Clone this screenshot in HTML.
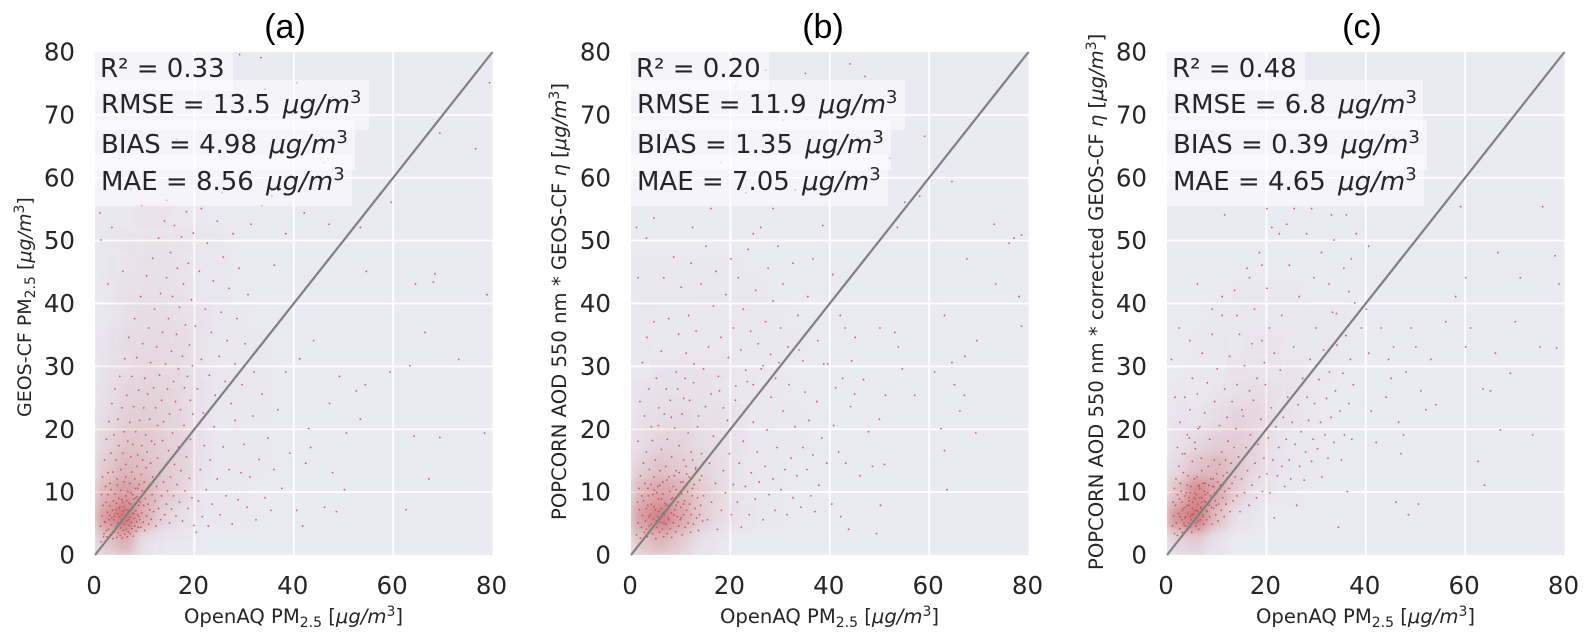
<!DOCTYPE html>
<html lang="en">
<head>
<meta charset="utf-8">
<title>PM2.5 scatter comparison</title>
<style>
html,body{margin:0;padding:0;background:#fff;width:1594px;height:641px;overflow:hidden}
svg{display:block}
text{font-family:"DejaVu Sans",sans-serif;fill:#262626}
.title{font-family:"Liberation Sans",sans-serif;font-size:34px;fill:#000;text-anchor:middle}
.stat{font-size:26px}
.axis-label{font-size:19.6px}
.it{font-style:italic}
.stat-box{fill:#fff;fill-opacity:.5}
</style>
</head>
<body>
<svg id="figure" width="1594" height="641" viewBox="0 0 1594 641" xmlns="http://www.w3.org/2000/svg">
  <defs>
    <filter id="soften" x="-10%" y="-10%" width="120%" height="120%"><feGaussianBlur stdDeviation="6"/></filter>
    <clipPath id="clip-a"><rect x="95" y="52" width="397.5" height="503"/></clipPath>
    <clipPath id="clip-b"><rect x="631" y="52" width="397.5" height="503"/></clipPath>
    <clipPath id="clip-c"><rect x="1167" y="52" width="397.5" height="503"/></clipPath>
  </defs>
  <g id="layer-a"></g>
  <g id="layer-b"></g>
  <g id="layer-c"></g>

  <text class="title" x="285" y="38">(a)</text>
  <text class="title" x="823" y="38">(b)</text>
  <text class="title" x="1362" y="38">(c)</text>

  <g>
    <rect class="stat-box" x="95" y="52" width="138" height="39"/>
    <rect class="stat-box" x="95" y="80" width="274" height="50"/>
    <rect class="stat-box" x="95" y="120" width="260" height="50"/>
    <rect class="stat-box" x="95" y="155" width="257" height="51"/>
    <text class="stat" x="100" y="77">R² = 0.33</text>
    <text class="stat" x="101" y="113">RMSE = 13.5 <tspan class="it" dx="4">μg/m</tspan><tspan font-size="18" dy="-10">3</tspan></text>
    <text class="stat" x="101" y="153">BIAS = 4.98 <tspan class="it" dx="4">μg/m</tspan><tspan font-size="18" dy="-10">3</tspan></text>
    <text class="stat" x="101" y="190">MAE = 8.56 <tspan class="it" dx="4">μg/m</tspan><tspan font-size="18" dy="-10">3</tspan></text>
  </g>
  <g>
    <rect class="stat-box" x="631" y="52" width="138" height="39"/>
    <rect class="stat-box" x="631" y="80" width="274" height="50"/>
    <rect class="stat-box" x="631" y="120" width="260" height="50"/>
    <rect class="stat-box" x="631" y="155" width="257" height="51"/>
    <text class="stat" x="636" y="77">R² = 0.20</text>
    <text class="stat" x="637" y="113">RMSE = 11.9 <tspan class="it" dx="4">μg/m</tspan><tspan font-size="18" dy="-10">3</tspan></text>
    <text class="stat" x="637" y="153">BIAS = 1.35 <tspan class="it" dx="4">μg/m</tspan><tspan font-size="18" dy="-10">3</tspan></text>
    <text class="stat" x="637" y="190">MAE = 7.05 <tspan class="it" dx="4">μg/m</tspan><tspan font-size="18" dy="-10">3</tspan></text>
  </g>
  <g>
    <rect class="stat-box" x="1167" y="52" width="138" height="39"/>
    <rect class="stat-box" x="1167" y="80" width="256" height="50"/>
    <rect class="stat-box" x="1167" y="120" width="260" height="50"/>
    <rect class="stat-box" x="1167" y="155" width="257" height="51"/>
    <text class="stat" x="1172" y="77">R² = 0.48</text>
    <text class="stat" x="1173" y="113">RMSE = 6.8 <tspan class="it" dx="4">μg/m</tspan><tspan font-size="18" dy="-10">3</tspan></text>
    <text class="stat" x="1173" y="153">BIAS = 0.39 <tspan class="it" dx="4">μg/m</tspan><tspan font-size="18" dy="-10">3</tspan></text>
    <text class="stat" x="1173" y="190">MAE = 4.65 <tspan class="it" dx="4">μg/m</tspan><tspan font-size="18" dy="-10">3</tspan></text>
  </g>

  <text class="axis-label" x="184" y="623">OpenAQ PM<tspan font-size="14" dy="4">2.5</tspan><tspan dy="-4"> [</tspan><tspan class="it">μg/m</tspan><tspan font-size="14" dy="-7">3</tspan><tspan dy="7">]</tspan></text>
  <text class="axis-label" x="720" y="623">OpenAQ PM<tspan font-size="14" dy="4">2.5</tspan><tspan dy="-4"> [</tspan><tspan class="it">μg/m</tspan><tspan font-size="14" dy="-7">3</tspan><tspan dy="7">]</tspan></text>
  <text class="axis-label" x="1256" y="623">OpenAQ PM<tspan font-size="14" dy="4">2.5</tspan><tspan dy="-4"> [</tspan><tspan class="it">μg/m</tspan><tspan font-size="14" dy="-7">3</tspan><tspan dy="7">]</tspan></text>

  <text class="axis-label" style="font-size:19px" transform="translate(31,417) rotate(-90)">GEOS-CF PM<tspan font-size="14" dy="4">2.5</tspan><tspan dy="-4"> [</tspan><tspan class="it">μg/m</tspan><tspan font-size="14" dy="-7">3</tspan><tspan dy="7">]</tspan></text>
  <text class="axis-label" transform="translate(566,520) rotate(-90)">POPCORN AOD 550 nm * GEOS-CF <tspan class="it">η</tspan> [<tspan class="it">μg/m</tspan><tspan font-size="14" dy="-7">3</tspan><tspan dy="7">]</tspan></text>
  <text class="axis-label" transform="translate(1103,570) rotate(-90)">POPCORN AOD 550 nm * corrected GEOS-CF <tspan class="it">η</tspan> [<tspan class="it">μg/m</tspan><tspan font-size="14" dy="-7">3</tspan><tspan dy="7">]</tspan></text>
</svg>

<script>
const xTickValues = [0, 20, 40, 60, 80];
const yTickValues = [0, 10, 20, 30, 40, 50, 60, 70, 80];
const identityLine = [0, 80];
const densityBinWidth = 4;

// Estimated point coverage (percent) in 4x4 unit bins.
// Each row is one y bin from 0-4 upward; each column is one x bin from 0-4 rightward.
const densityA = [
[22,38,7,1,1,0,0,0,0,0],
[50,72,38,14,7,1,1,1,0,0],
[34,50,38,22,12,2,2,1,0,0],
[20,32,28,20,15,3,2,1,1,0],
[14,24,22,17,13,3,2,1,1,0],
[9,17,18,15,11,3,2,1,1,0],
[7,13,15,14,10,3,2,1,1,0],
[5,9,12,11,8,4,2,1,1,0],
[3,8,10,10,8,4,2,1,1,0],
[2,7,9,9,7,3,2,1,0,0],
[2,6,7,7,5,2,1,0,0,0],
[1,4,6,6,4,2,1,0,0,0],
[1,3,4,4,3,1,1,0,0,0],
[1,2,3,3,2,1,0,0,0,0]
];
const densityB = [
[24,34,20,6,1,0,0,0,0,0],
[50,68,44,20,8,3,1,1,0,0],
[34,46,36,20,10,4,2,1,0,0],
[17,25,20,14,9,4,2,1,0,0],
[9,14,14,9,7,3,2,1,1,0],
[6,9,10,7,6,3,2,1,1,0],
[3,6,6,6,4,2,1,1,0,0],
[2,3,3,3,3,2,1,1,0,0],
[1,2,2,2,2,2,1,1,1,0],
[1,2,2,2,2,1,1,1,0,0],
[1,1,2,2,2,1,1,0,0,0],
[1,1,1,1,1,1,0,0,0,0]
];
const densityC = [
[14,18,3,0,0,0,0,0,0,0],
[56,70,28,6,1,0,0,0,0,0],
[28,62,44,18,6,1,1,0,0,0],
[10,25,32,22,11,3,1,1,0,0],
[5,11,17,18,13,5,2,1,0,0],
[3,4,9,13,12,6,3,1,0,0],
[1,2,4,7,9,5,3,1,0,0],
[0,1,2,3,4,4,3,2,1,0],
[0,1,1,2,3,3,2,2,1,0],
[0,0,1,1,2,2,2,1,1,0],
[0,0,0,1,1,1,1,0,0,0]
];

const pointsA = [
1.2,2.1,1.8,3.4,2.1,5.2,2.4,2.9,2.7,4.1,2.9,6.3,3.1,3.2,3.3,4.8,3.5,7.1,3.6,2.6,3.8,5.6,3.9,3.7,4.1,6.6,4.2,4.4,4.3,8.2,4.4,2.8,4.6,5.1,4.7,3.5,4.8,7.4,4.9,6.1,
5.1,3.1,5.2,4.3,5.3,5.6,5.4,8.8,5.5,2.7,5.6,6.9,5.7,3.9,5.8,7.7,5.9,4.9,6.0,3.3,6.1,6.2,6.2,9.4,6.3,4.1,6.4,5.4,6.5,2.9,6.6,7.1,6.7,3.7,6.8,8.3,6.9,4.7,7.0,6.0,
7.1,3.4,7.2,9.9,7.3,5.2,7.4,4.2,7.5,7.6,7.6,6.6,7.7,3.0,7.8,8.9,7.9,5.8,8.0,4.6,8.1,10.6,8.2,7.0,8.3,3.8,8.4,5.3,8.5,9.3,8.6,6.4,8.7,4.4,8.8,7.9,8.9,11.2,9.0,5.6,
1.1,4.6,1.4,6.2,1.6,7.9,1.7,2.9,1.9,5.3,2.2,8.4,2.3,3.9,2.5,6.8,2.6,9.6,2.8,5.6,3.0,7.8,3.2,10.4,3.4,5.9,3.7,8.6,3.9,6.2,4.0,9.7,4.2,7.2,4.5,11.1,4.6,6.6,4.8,9.0,
5.0,7.6,5.2,10.3,5.4,6.4,5.6,8.4,5.8,11.6,6.0,7.2,6.2,12.4,6.4,8.6,6.6,10.1,6.8,5.6,7.0,11.4,7.2,8.1,7.4,13.2,7.6,9.6,7.8,6.6,8.0,12.1,8.2,9.1,8.4,14.1,8.6,10.6,8.8,6.1,
9.1,8.4,9.2,4.4,9.3,12.8,9.4,6.7,9.5,10.2,9.6,15.1,9.7,5.2,9.8,7.9,9.9,11.6,10.0,3.9,10.1,9.0,10.3,13.9,10.4,6.2,10.5,16.4,10.7,8.1,10.8,4.9,10.9,11.1,11.0,7.2,11.2,14.6,11.3,5.7,
11.5,9.6,11.6,12.4,11.8,6.9,12.0,17.6,12.1,8.6,12.3,4.6,12.4,10.9,12.6,15.4,12.8,7.4,13.0,13.1,13.2,5.6,13.4,9.4,13.6,18.2,13.8,11.6,14.0,6.4,14.2,14.4,14.4,8.1,14.6,10.2,14.8,16.6,15.0,5.1,
15.2,12.4,15.4,7.3,15.6,19.4,15.8,9.4,16.0,14.4,16.3,6.2,16.5,11.2,16.8,17.2,17.0,8.4,17.3,13.4,17.6,5.4,17.9,20.6,18.1,10.2,18.4,15.6,18.7,7.4,19.0,12.2,19.2,18.4,19.5,9.1,19.7,22.4,19.9,4.7,
1.3,9.6,1.5,12.4,1.9,15.1,2.1,10.9,2.3,18.4,2.6,13.1,2.8,21.2,3.0,11.4,3.2,16.2,3.4,24.1,3.6,13.2,3.8,19.1,4.0,26.4,4.2,15.1,4.4,12.1,4.6,21.6,4.8,17.4,5.0,28.4,5.2,13.6,5.4,23.4,
5.6,16.2,5.8,19.6,6.0,31.2,6.2,14.4,6.4,25.4,6.6,18.1,6.8,34.6,7.0,21.1,7.2,15.6,7.4,28.4,7.6,17.6,7.8,23.6,8.0,37.6,8.2,19.6,8.4,31.4,8.6,15.9,8.8,26.2,9.0,21.4,9.2,41.1,9.4,17.4,
9.6,33.6,9.8,23.4,10.0,28.1,10.2,19.1,10.4,44.4,10.6,25.6,10.8,36.1,11.0,21.6,11.2,30.6,11.4,18.1,11.6,47.2,11.8,26.6,12.0,39.1,12.2,23.4,12.4,33.1,12.6,20.6,12.8,50.4,13.0,28.6,13.2,41.6,13.4,24.6,
13.6,35.4,13.8,21.2,14.0,53.1,14.2,30.4,14.4,44.1,14.6,26.4,14.8,37.6,15.0,22.4,15.2,48.1,15.4,32.4,15.6,41.1,15.8,27.6,16.0,52.4,16.2,24.4,16.4,35.1,16.6,45.6,16.8,29.6,17.0,39.4,17.2,23.1,17.4,50.6,
17.6,31.6,17.8,43.1,18.0,26.6,18.2,36.6,18.4,54.6,18.6,28.4,18.8,46.4,19.0,33.4,19.2,24.6,19.4,40.6,19.6,30.1,19.8,51.2,20.2,36.4,20.6,26.4,21.0,45.1,21.4,31.1,21.8,22.6,22.2,39.1,22.6,49.6,23.0,28.6,
23.4,35.4,23.8,43.6,24.2,25.4,24.6,53.1,25.0,31.6,25.4,38.6,25.8,47.4,26.2,27.6,26.6,34.1,27.0,42.4,27.4,24.1,27.8,51.1,28.2,30.4,28.6,37.6,29.0,45.6,29.6,27.1,30.2,33.6,30.8,41.4,31.4,52.6,32.0,29.1,
20.4,3.6,20.8,8.6,21.2,13.6,21.6,6.1,22.0,17.4,22.4,10.4,22.8,4.6,23.2,15.1,23.6,8.1,24.0,20.4,24.6,12.1,25.2,6.4,25.8,17.2,26.4,9.4,27.0,13.6,27.6,4.9,28.2,21.4,28.8,8.8,29.4,13.1,30.0,17.6,
30.6,7.6,31.2,12.4,31.8,22.1,32.4,5.6,33.0,15.2,33.6,25.6,34.2,9.1,34.8,18.6,35.4,7.1,36.0,13.6,36.8,23.1,37.6,10.6,38.4,29.1,39.2,16.2,
40.6,7.1,41.2,31.2,41.8,4.6,42.4,14.6,43.0,20.1,43.4,17.1,44.0,34.1,46.2,7.6,47.2,24.1,47.8,13.1,48.6,6.9,49.2,28.4,50.2,10.4,50.6,19.4,52.6,26.1,53.4,21.6,54.4,27.1,54.6,45.1,
59.4,29.1,62.6,7.2,63.4,30.1,64.2,18.9,66.4,35.4,67.2,12.1,69.4,18.7,73.2,31.1,78.4,19.4,78.9,41.4,68.1,43.4,68.4,44.7,64.5,43.1,
1.0,54.4,3.4,52.1,1.2,50.1,2.6,43.1,5.6,45.1,7.2,58.2,4.8,63.1,9.4,55.6,11.6,61.1,14.4,56.4,16.4,66.1,19.1,72.1,21.4,55.1,23.4,64.1,25.6,57.6,29.1,79.6,33.4,79.1,35.6,57.1,34.2,74.1,40.6,75.1,46.1,62.4,59.6,56.1,69.4,67.1,76.6,64.6,79.4,75.1,53.4,52.1,47.1,52.6,42.1,54.4,38.4,51.1,36.1,46.1,33.6,55.6
];

const pointsB = [
1.1,3.2,1.4,5.1,1.7,7.2,1.9,2.7,2.1,4.4,2.3,6.3,2.5,8.6,2.7,3.6,2.9,5.4,3.1,7.4,3.3,2.9,3.5,9.4,3.7,4.6,3.9,6.4,4.1,8.1,4.3,3.4,4.5,5.7,4.7,10.3,4.9,7.2,5.0,2.6,
5.2,4.4,5.4,6.1,5.5,8.9,5.7,3.6,5.8,11.1,6.0,5.2,6.1,7.4,6.3,4.1,6.4,9.7,6.6,2.9,6.7,6.4,6.9,8.2,7.0,4.9,7.2,11.9,7.3,3.4,7.5,5.9,7.6,7.9,7.8,10.1,7.9,4.2,8.1,6.7,
8.2,2.8,8.4,9.1,8.5,5.1,8.7,12.6,8.8,7.2,9.0,3.7,9.1,10.4,9.3,6.1,9.4,8.4,9.6,4.6,9.7,13.1,9.9,5.6,10.0,7.6,10.2,9.7,10.3,3.2,10.5,11.6,10.6,6.4,10.8,8.6,10.9,4.4,11.1,14.1,
11.2,7.1,11.4,10.1,11.5,5.1,11.7,12.4,11.8,8.1,12.0,3.6,12.1,6.4,12.3,9.4,12.4,15.1,12.6,4.9,12.7,11.2,12.9,7.4,13.0,13.6,13.2,5.9,13.4,9.1,13.6,3.9,13.8,11.9,14.0,7.9,14.2,16.1,14.4,5.4,
1.3,8.4,1.6,10.6,1.9,12.6,2.2,9.4,2.5,14.6,2.8,11.4,3.1,16.4,3.4,10.6,3.7,13.6,4.0,11.2,4.3,18.2,4.6,12.4,4.9,15.1,5.2,9.9,5.5,20.6,5.8,13.4,6.1,16.8,6.4,11.6,6.7,22.4,7.0,14.1,
7.3,18.4,7.6,12.4,7.9,24.6,8.2,15.6,8.5,10.9,8.8,20.2,9.1,13.4,9.4,26.4,9.7,17.4,10.0,11.6,10.3,22.4,10.6,15.1,10.9,28.1,11.2,12.9,11.5,19.4,11.8,24.6,12.1,16.4,12.4,10.6,12.7,30.4,13.0,13.9,
3.1,4.1,3.6,6.1,4.1,4.9,4.6,7.7,5.1,5.4,5.6,6.9,6.1,8.9,6.6,5.1,7.1,7.9,7.6,5.6,8.1,8.9,8.6,6.4,9.1,7.9,9.6,9.4,10.1,5.9,10.6,8.1,3.4,7.9,4.4,9.6,5.4,10.9,6.4,6.6,
13.4,20.4,13.8,6.4,14.2,12.6,14.6,9.4,15.0,23.6,15.4,5.6,15.8,14.6,16.2,8.4,16.6,18.9,17.0,11.4,17.4,4.1,17.8,26.1,18.2,7.1,18.6,13.4,19.0,9.9,19.4,21.4,19.8,16.1,20.2,6.4,20.6,11.2,21.0,24.6,
21.4,8.4,21.8,14.6,22.2,4.4,22.6,18.1,23.0,10.9,23.4,27.6,23.8,6.4,24.2,13.1,24.6,21.1,25.0,8.9,25.4,16.4,25.8,11.6,26.2,29.6,26.6,5.6,27.0,14.1,27.4,19.9,27.8,9.6,28.2,25.1,28.6,12.1,29.0,7.1,
29.4,17.1,29.8,30.6,30.2,10.4,30.6,22.9,31.0,13.6,31.4,6.4,31.8,27.1,32.2,15.4,32.6,9.1,33.0,20.4,33.4,12.6,33.8,32.6,34.2,7.6,34.6,17.1,35.0,25.9,35.4,13.6,35.8,21.4,36.2,9.4,36.6,15.9,37.0,6.9,
37.4,24.4,37.8,11.1,38.4,18.6,38.8,30.4,39.4,14.6,40.4,8.1,40.8,20.6,41.2,26.6,41.8,16.4,42.2,6.1,42.6,28.1,43.2,14.6,43.8,4.1,44.2,23.6,45.0,25.6,46.1,12.6,46.8,27.9,47.8,19.6,48.6,14.1,49.4,3.4,
50.0,21.6,50.2,7.9,51.0,14.4,51.2,25.4,53.8,33.1,54.6,29.6,57.1,25.4,61.1,29.1,62.4,20.1,63.1,16.6,63.6,10.4,65.1,27.1,66.2,22.9,67.1,25.4,69.4,19.4,69.6,34.1,67.2,31.6,64.6,30.6,78.6,36.4,
1.4,18.1,1.8,24.4,2.3,30.6,2.7,22.1,3.2,34.6,3.6,26.4,4.1,20.4,4.6,37.1,5.1,28.1,5.6,23.4,6.1,32.4,6.6,44.1,7.1,26.4,7.6,37.6,8.1,21.9,8.6,47.4,9.1,29.1,9.6,35.1,10.1,42.6,10.6,24.9,
11.1,32.1,11.6,38.1,12.1,46.4,12.6,27.4,13.1,35.6,13.6,22.1,14.1,43.1,14.6,29.6,15.1,49.1,15.6,33.1,16.1,25.6,16.6,39.6,17.1,45.1,17.6,28.4,18.1,34.6,18.6,23.4,19.1,41.4,19.6,31.4,20.1,47.1,20.6,36.1,
21.1,26.9,21.6,44.1,22.1,32.6,22.6,39.1,23.1,29.4,23.6,48.6,24.1,35.6,24.6,27.1,25.1,42.1,25.6,33.6,26.1,52.1,26.6,30.1,27.1,37.1,27.6,45.6,28.1,31.9,28.6,40.4,29.1,28.1,29.6,49.1,30.1,36.1,30.6,43.1,
31.6,33.1,32.6,46.4,33.6,38.1,34.6,30.9,35.6,41.1,36.6,47.1,37.6,34.1,38.6,52.4,39.6,30.4,40.6,44.6,42.1,38.1,43.1,36.1,44.4,30.9,45.1,34.6,50.1,36.1,53.1,35.4,63.1,38.1,78.6,50.9,77.1,50.4,73.4,43.1,
1.1,52.1,1.4,44.1,3.1,50.4,4.6,53.6,7.1,66.1,10.1,60.1,12.4,52.1,14.6,70.4,16.1,55.1,18.1,62.4,21.1,74.6,23.1,57.6,24.6,51.1,27.1,77.1,28.6,55.1,30.6,69.1,33.1,58.1,35.1,76.6,38.1,59.1,41.1,64.1,
44.1,78.1,47.1,76.1,48.4,72.1,52.1,63.1,53.6,52.1,55.1,56.1,58.1,57.1,59.1,66.6,64.6,59.4,67.6,47.1,73.1,52.6,78.1,41.1,76.1,49.6
];

const pointsC = [
1.1,4.6,1.3,6.2,1.5,3.4,1.7,7.9,1.9,5.1,2.1,3.1,2.3,6.6,2.5,8.9,2.6,4.2,2.8,10.1,3.0,5.6,3.1,3.6,3.3,7.4,3.5,4.7,3.6,9.4,3.8,6.1,4.0,3.9,4.1,11.1,4.3,5.1,4.4,7.9,
4.6,4.4,4.7,9.9,4.9,6.4,5.0,3.6,5.2,8.4,5.3,5.4,5.5,12.1,5.6,7.1,5.8,4.6,5.9,9.6,6.1,6.1,6.2,8.1,6.4,4.1,6.5,10.9,6.7,5.6,6.8,7.6,7.0,13.4,7.1,9.1,7.3,6.4,7.4,4.9,
7.6,8.6,7.7,11.4,7.9,7.1,8.0,5.6,8.2,9.9,8.3,14.1,8.5,7.9,8.6,6.1,8.8,12.1,8.9,9.1,9.1,4.9,9.2,10.9,9.4,7.4,9.5,15.1,9.7,8.6,9.8,6.4,10.0,12.9,10.1,10.1,10.3,5.4,10.4,8.1,
10.6,14.4,10.7,11.1,10.9,7.1,11.0,16.4,11.2,9.1,11.3,12.6,11.5,6.1,11.6,10.1,11.8,15.1,11.9,8.1,12.1,13.1,12.3,18.1,12.5,10.6,12.7,6.9,12.9,14.6,13.1,11.4,13.3,8.6,13.5,17.1,13.7,12.4,13.9,20.1,
1.2,8.4,1.5,10.6,1.8,12.1,2.1,9.6,2.4,14.1,2.7,11.4,3.0,8.4,3.3,13.1,3.6,16.1,3.9,9.9,4.2,12.6,4.5,18.6,4.8,10.9,5.1,14.9,5.4,9.1,5.7,16.9,6.0,12.4,6.3,20.1,6.6,10.6,6.9,15.4,
2.6,6.1,3.1,7.1,3.4,5.1,3.7,7.6,4.2,6.6,4.5,8.6,4.8,5.6,5.1,7.4,5.4,6.6,5.7,8.9,6.0,7.1,6.3,5.4,6.6,9.1,6.9,7.4,7.2,6.1,7.5,10.1,7.8,8.4,8.1,6.9,8.4,11.1,8.7,9.4,
9.0,7.6,9.3,12.1,9.6,9.9,9.9,7.9,10.2,11.6,3.6,5.9,4.1,7.9,5.6,9.9,6.4,11.1,7.0,8.4,7.7,9.6,5.9,5.1,4.7,6.1,3.9,4.6,6.2,6.9,8.6,8.4,9.4,10.9,5.2,6.4,4.4,9.1,7.3,11.4,
14.1,9.4,14.4,15.6,14.7,6.9,15.0,12.1,15.3,22.1,15.6,9.9,15.9,17.1,16.2,13.4,16.5,7.9,16.8,19.1,17.1,11.1,17.4,24.6,17.7,14.6,18.0,9.1,18.3,17.6,18.6,12.4,18.9,21.6,19.2,10.1,19.5,15.4,19.8,27.1,
20.1,12.9,20.4,18.6,20.7,9.9,21.0,23.4,21.3,15.1,21.6,5.9,21.9,20.4,22.2,12.6,22.5,17.1,22.8,29.4,23.1,14.1,23.4,21.9,23.7,10.9,24.0,18.4,24.3,25.1,24.6,15.1,24.9,12.1,25.2,21.1,25.5,33.1,25.8,17.6,
26.1,7.9,26.4,23.9,26.7,14.1,27.0,19.6,27.3,28.1,27.6,11.9,27.9,16.4,28.2,25.1,28.5,21.4,28.8,31.1,29.1,14.9,29.4,18.4,29.7,24.1,30.0,36.1,30.3,16.9,30.6,27.9,30.9,21.1,31.2,12.4,31.5,32.6,31.8,19.1,
32.1,24.9,32.4,15.4,32.7,29.1,33.0,21.9,33.3,38.6,33.6,17.9,33.9,26.1,34.2,33.4,34.5,4.4,34.8,22.9,35.1,15.1,35.4,28.9,35.7,19.1,36.0,34.9,36.3,10.1,36.6,24.1,36.9,31.1,37.2,18.4,37.5,27.1,37.8,40.1,
2.1,17.1,2.6,21.1,3.1,16.1,3.6,25.1,4.1,19.1,4.6,23.1,5.1,28.1,5.6,17.9,6.1,25.6,6.6,20.4,7.1,32.1,7.6,22.6,8.1,27.4,8.6,18.4,9.1,35.1,9.6,24.4,10.1,29.6,10.6,20.6,11.1,38.1,11.6,26.4,
12.1,21.9,12.6,31.6,13.1,24.4,13.6,42.1,14.1,27.1,14.6,35.1,15.1,23.1,15.6,30.1,16.1,45.6,16.6,26.1,17.1,33.6,17.6,39.1,18.1,28.1,18.6,48.1,19.1,34.1,19.6,30.6,20.1,42.4,20.6,36.1,21.1,52.1,21.6,32.1,
23.1,38.1,24.6,46.1,25.6,55.1,26.6,41.1,28.1,51.1,29.6,44.1,31.1,48.1,32.6,43.1,33.1,54.1,34.1,38.4,35.6,45.6,36.6,41.9,37.1,47.1,38.1,51.1,39.1,36.1,40.1,39.1,40.6,32.1,41.1,22.9,42.1,17.9,43.1,36.1,
44.1,25.1,44.6,31.1,45.1,28.1,45.6,33.1,46.1,8.4,46.6,21.1,47.1,16.1,47.6,19.1,48.1,29.1,48.6,6.4,49.1,36.1,50.1,33.1,50.6,8.1,51.1,26.1,52.1,23.1,53.1,31.1,54.1,23.9,55.1,55.1,56.1,37.1,58.1,41.1,
60.1,33.1,61.1,36.1,62.6,14.9,63.6,26.4,63.9,11.1,65.1,26.1,66.1,32.1,67.1,19.9,69.1,28.9,70.1,37.1,73.6,19.1,75.6,55.4,78.1,47.6,78.4,32.9,78.9,43.1,75.1,33.1,71.1,44.1,66.6,48.1,60.1,44.1,59.1,55.4,
1.6,25.1,0.9,31.1,2.4,36.1,4.6,34.1,6.1,43.1,9.1,39.1,11.1,41.1,14.1,38.1,16.6,44.1,19.1,46.1,20.1,55.1,24.1,52.6,11.6,54.1,22.6,51.1,29.1,55.1,33.6,50.1,36.1,54.1,40.6,49.1
];

const panels = [
  {key: 'a', left: 95, right: 492.5, pairs: pointsA, density: densityA},
  {key: 'b', left: 631, right: 1028.5, pairs: pointsB, density: densityB},
  {key: 'c', left: 1167, right: 1564.5, pairs: pointsC, density: densityC}
];
const plotTop = 52;
const plotBottom = 555;
const NS = 'http://www.w3.org/2000/svg';

function xScale(panel, value) {
  return panel.left + (value / 80) * (panel.right - panel.left);
}
function yScale(value) {
  return plotBottom - (value / 80) * (plotBottom - plotTop);
}
function make(tag, attrs, parent) {
  const el = document.createElementNS(NS, tag);
  for (const k in attrs) el.setAttribute(k, attrs[k]);
  parent.appendChild(el);
  return el;
}

panels.forEach(function (panel) {
  const layer = document.getElementById('layer-' + panel.key);

  const bg = make('rect', {x: panel.left, y: plotTop, width: panel.right - panel.left, height: plotBottom - plotTop, fill: '#eaeaf2'}, layer);
  
  

  xTickValues.forEach(function (t) {
    const px = xScale(panel, t);
    if (t > 0 && t < 80) {
      const g = make('line', {x1: px, x2: px, y1: plotTop, y2: plotBottom, stroke: '#fff', 'stroke-width': 1.8}, layer);
      
      
    }
    const lab = make('text', {x: px - 1, y: 594, 'font-size': 24.5, 'text-anchor': 'middle'}, layer);
    lab.textContent = String(t);
    
    
  });

  yTickValues.forEach(function (t) {
    const py = yScale(t);
    if (t > 0 && t < 80) {
      const g = make('line', {x1: panel.left, x2: panel.right, y1: py, y2: py, stroke: '#fff', 'stroke-width': 1.8}, layer);
      
      
    }
    const lab = make('text', {x: panel.left - 20, y: py + 8.5, 'font-size': 24.5, 'text-anchor': 'end'}, layer);
    lab.textContent = String(t);
    
    
  });

  const clip = make('g', {'clip-path': 'url(#clip-' + panel.key + ')'}, layer);
  
  

  const soft = make('g', {filter: 'url(#soften)'}, clip);
  
  
  panel.density.forEach(function (row, r) {
    row.forEach(function (cover, c) {
      const x0 = xScale(panel, c * densityBinWidth);
      const x1 = xScale(panel, (c + 1) * densityBinWidth);
      const y0 = yScale((r + 1) * densityBinWidth);
      const y1 = yScale(r * densityBinWidth);
      const cell = make('rect', {x: x0, y: y0, width: x1 - x0, height: y1 - y0, fill: '#c44e52', 'fill-opacity': cover / 100}, soft);
      
      
    });
  });

  for (let i = 0; i + 1 < panel.pairs.length; i += 2) {
    const dot = make('circle', {cx: xScale(panel, panel.pairs[i]), cy: yScale(panel.pairs[i + 1]), r: 0.9, fill: '#c44e52', 'fill-opacity': 0.9}, clip);
    
    
  }

  const diag = make('line', {x1: xScale(panel, identityLine[0]), y1: yScale(identityLine[0]), x2: xScale(panel, identityLine[1]), y2: yScale(identityLine[1]), stroke: '#808080', 'stroke-width': 2.2}, layer);
  
  
});
</script>
</body>
</html>
